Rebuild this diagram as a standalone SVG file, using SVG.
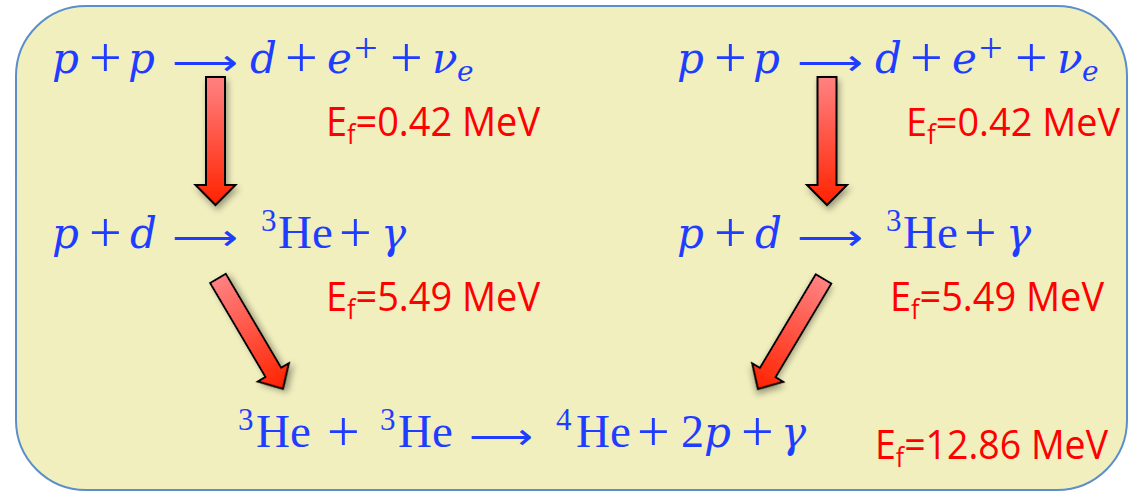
<svg xmlns="http://www.w3.org/2000/svg" width="1128" height="492" viewBox="0 0 1128 492">
<defs>
<linearGradient id="redgrad" x1="0" y1="0" x2="0" y2="1">
<stop offset="0" stop-color="#ff8282"/>
<stop offset="1" stop-color="#ff2200"/>
</linearGradient>
<filter id="shadow" x="-50%" y="-20%" width="200%" height="150%">
<feDropShadow dx="2" dy="4" stdDeviation="3" flood-color="#000" flood-opacity="0.35"/>
</filter>
<path id="vArrow" d="M -9.5 0 H 9.5 V 108 H 20 L 0 128 L -20 108 H -9.5 Z"/>
<path id="dArrow" d="M -9 0 H 9 V 109 H 18 L 0 128 L -18 109 H -9 Z"/>
</defs>
<style>
.box { fill: #f1efbe; stroke: #5b8fcb; stroke-width: 2; }
.arrow { fill: url(#redgrad); stroke: #000; stroke-width: 2; stroke-linejoin: miter; filter: url(#shadow); }
.m { font-family: "Liberation Serif", serif; font-size: 46px; fill: #1f3dff; }
.i { font-family: "DejaVu Serif", "Liberation Serif", serif; font-style: italic; font-size: 42px; }
.pl { font-size: 58px; }
.sp { font-size: 42px; }
.sup { font-size: 31px; }
.sub { font-family: "DejaVu Serif", "Liberation Serif", serif; font-size: 28px; font-style: italic; }
.he { font-size: 47px; }
.lar { font-family: "DejaVu Sans", sans-serif; font-size: 36px; }
.lab { font-family: "Open Sans", "Liberation Sans", sans-serif; font-size: 41px; fill: #ff0000; }
.lsub { font-size: 27px; }
</style>

<rect class="box" x="16" y="6" width="1111" height="484" rx="70" ry="70"/>

<g id="connectors">
<use class="arrow" href="#vArrow" transform="translate(215.5,77)"/>
<use class="arrow" href="#vArrow" transform="translate(827,77)"/>
<use class="arrow" href="#dArrow" transform="translate(218,278.5) rotate(-30.5)"/>
<use class="arrow" href="#dArrow" transform="translate(823.5,279) rotate(30.8)"/>
</g>

<g id="eq-pp-left">
<text class="m" y="73"><tspan class="i" x="52">p</tspan><tspan class="pl" x="89" y="76.5">+</tspan><tspan class="i" x="128" y="73">p</tspan><tspan class="lar" x="172" y="75" textLength="66" lengthAdjust="spacingAndGlyphs">⟶</tspan><tspan class="i" x="250" y="73">d</tspan><tspan class="pl" x="285" y="76.5">+</tspan><tspan class="i" x="327" y="73">e</tspan><tspan class="sp" x="354" y="62">+</tspan><tspan class="pl" x="390" y="76.5">+</tspan><tspan class="i" x="432" y="73">ν</tspan><tspan class="sub" x="457" y="81">e</tspan></text>
</g>
<g id="label-1-left"><text class="lab" x="326" y="136" textLength="214" lengthAdjust="spacingAndGlyphs">E<tspan class="lsub" dy="8">f</tspan><tspan dy="-8">=0.42 MeV</tspan></text></g>

<g id="eq-pp-right">
<text class="m" y="73"><tspan class="i" x="677">p</tspan><tspan class="pl" x="714" y="76.5">+</tspan><tspan class="i" x="753" y="73">p</tspan><tspan class="lar" x="797" y="75" textLength="66" lengthAdjust="spacingAndGlyphs">⟶</tspan><tspan class="i" x="875" y="73">d</tspan><tspan class="pl" x="910" y="76.5">+</tspan><tspan class="i" x="952" y="73">e</tspan><tspan class="sp" x="979" y="62">+</tspan><tspan class="pl" x="1015" y="76.5">+</tspan><tspan class="i" x="1057" y="73">ν</tspan><tspan class="sub" x="1082" y="81">e</tspan></text>
</g>
<g id="label-1-right"><text class="lab" x="906" y="136" style="font-size:39px" textLength="214" lengthAdjust="spacingAndGlyphs">E<tspan class="lsub" dy="8">f</tspan><tspan dy="-8">=0.42 MeV</tspan></text></g>

<g id="eq-pd-left">
<text class="m" y="248"><tspan class="i" x="52">p</tspan><tspan class="pl" x="89" y="251.5">+</tspan><tspan class="i" x="130" y="248">d</tspan><tspan class="lar" x="172" y="250" textLength="66" lengthAdjust="spacingAndGlyphs">⟶</tspan><tspan class="sup" x="261" y="231">3</tspan><tspan class="he" x="278" y="248">He</tspan><tspan class="pl" x="339" y="251.5">+</tspan><tspan class="i" x="381" y="248">γ</tspan></text>
</g>
<g id="label-2-left"><text class="lab" x="326" y="311" textLength="214" lengthAdjust="spacingAndGlyphs">E<tspan class="lsub" dy="8">f</tspan><tspan dy="-8">=5.49 MeV</tspan></text></g>

<g id="eq-pd-right">
<text class="m" y="248"><tspan class="i" x="677">p</tspan><tspan class="pl" x="714" y="251.5">+</tspan><tspan class="i" x="755" y="248">d</tspan><tspan class="lar" x="797" y="250" textLength="66" lengthAdjust="spacingAndGlyphs">⟶</tspan><tspan class="sup" x="886" y="231">3</tspan><tspan class="he" x="903" y="248">He</tspan><tspan class="pl" x="964" y="251.5">+</tspan><tspan class="i" x="1006" y="248">γ</tspan></text>
</g>
<g id="label-2-right"><text class="lab" x="890" y="311" textLength="214" lengthAdjust="spacingAndGlyphs">E<tspan class="lsub" dy="8">f</tspan><tspan dy="-8">=5.49 MeV</tspan></text></g>

<g id="eq-hehe">
<text class="m" y="447"><tspan class="sup" x="238" y="430">3</tspan><tspan class="he" x="256" y="447">He</tspan><tspan class="pl" x="327" y="450.5">+</tspan><tspan class="sup" x="380" y="430">3</tspan><tspan class="he" x="398" y="447">He</tspan><tspan class="lar" x="469" y="449" textLength="64" lengthAdjust="spacingAndGlyphs">⟶</tspan><tspan class="sup" x="556" y="430">4</tspan><tspan class="he" x="576" y="447">He</tspan><tspan class="pl" x="637" y="450.5">+</tspan><tspan x="681" y="447">2</tspan><tspan class="i" x="704" y="447">p</tspan><tspan class="pl" x="741" y="450.5">+</tspan><tspan class="i" x="781" y="447">γ</tspan></text>
</g>
<g id="label-3"><text class="lab" x="875" y="459" textLength="233" lengthAdjust="spacingAndGlyphs">E<tspan class="lsub" dy="8">f</tspan><tspan dy="-8">=12.86 MeV</tspan></text></g>
</svg>
